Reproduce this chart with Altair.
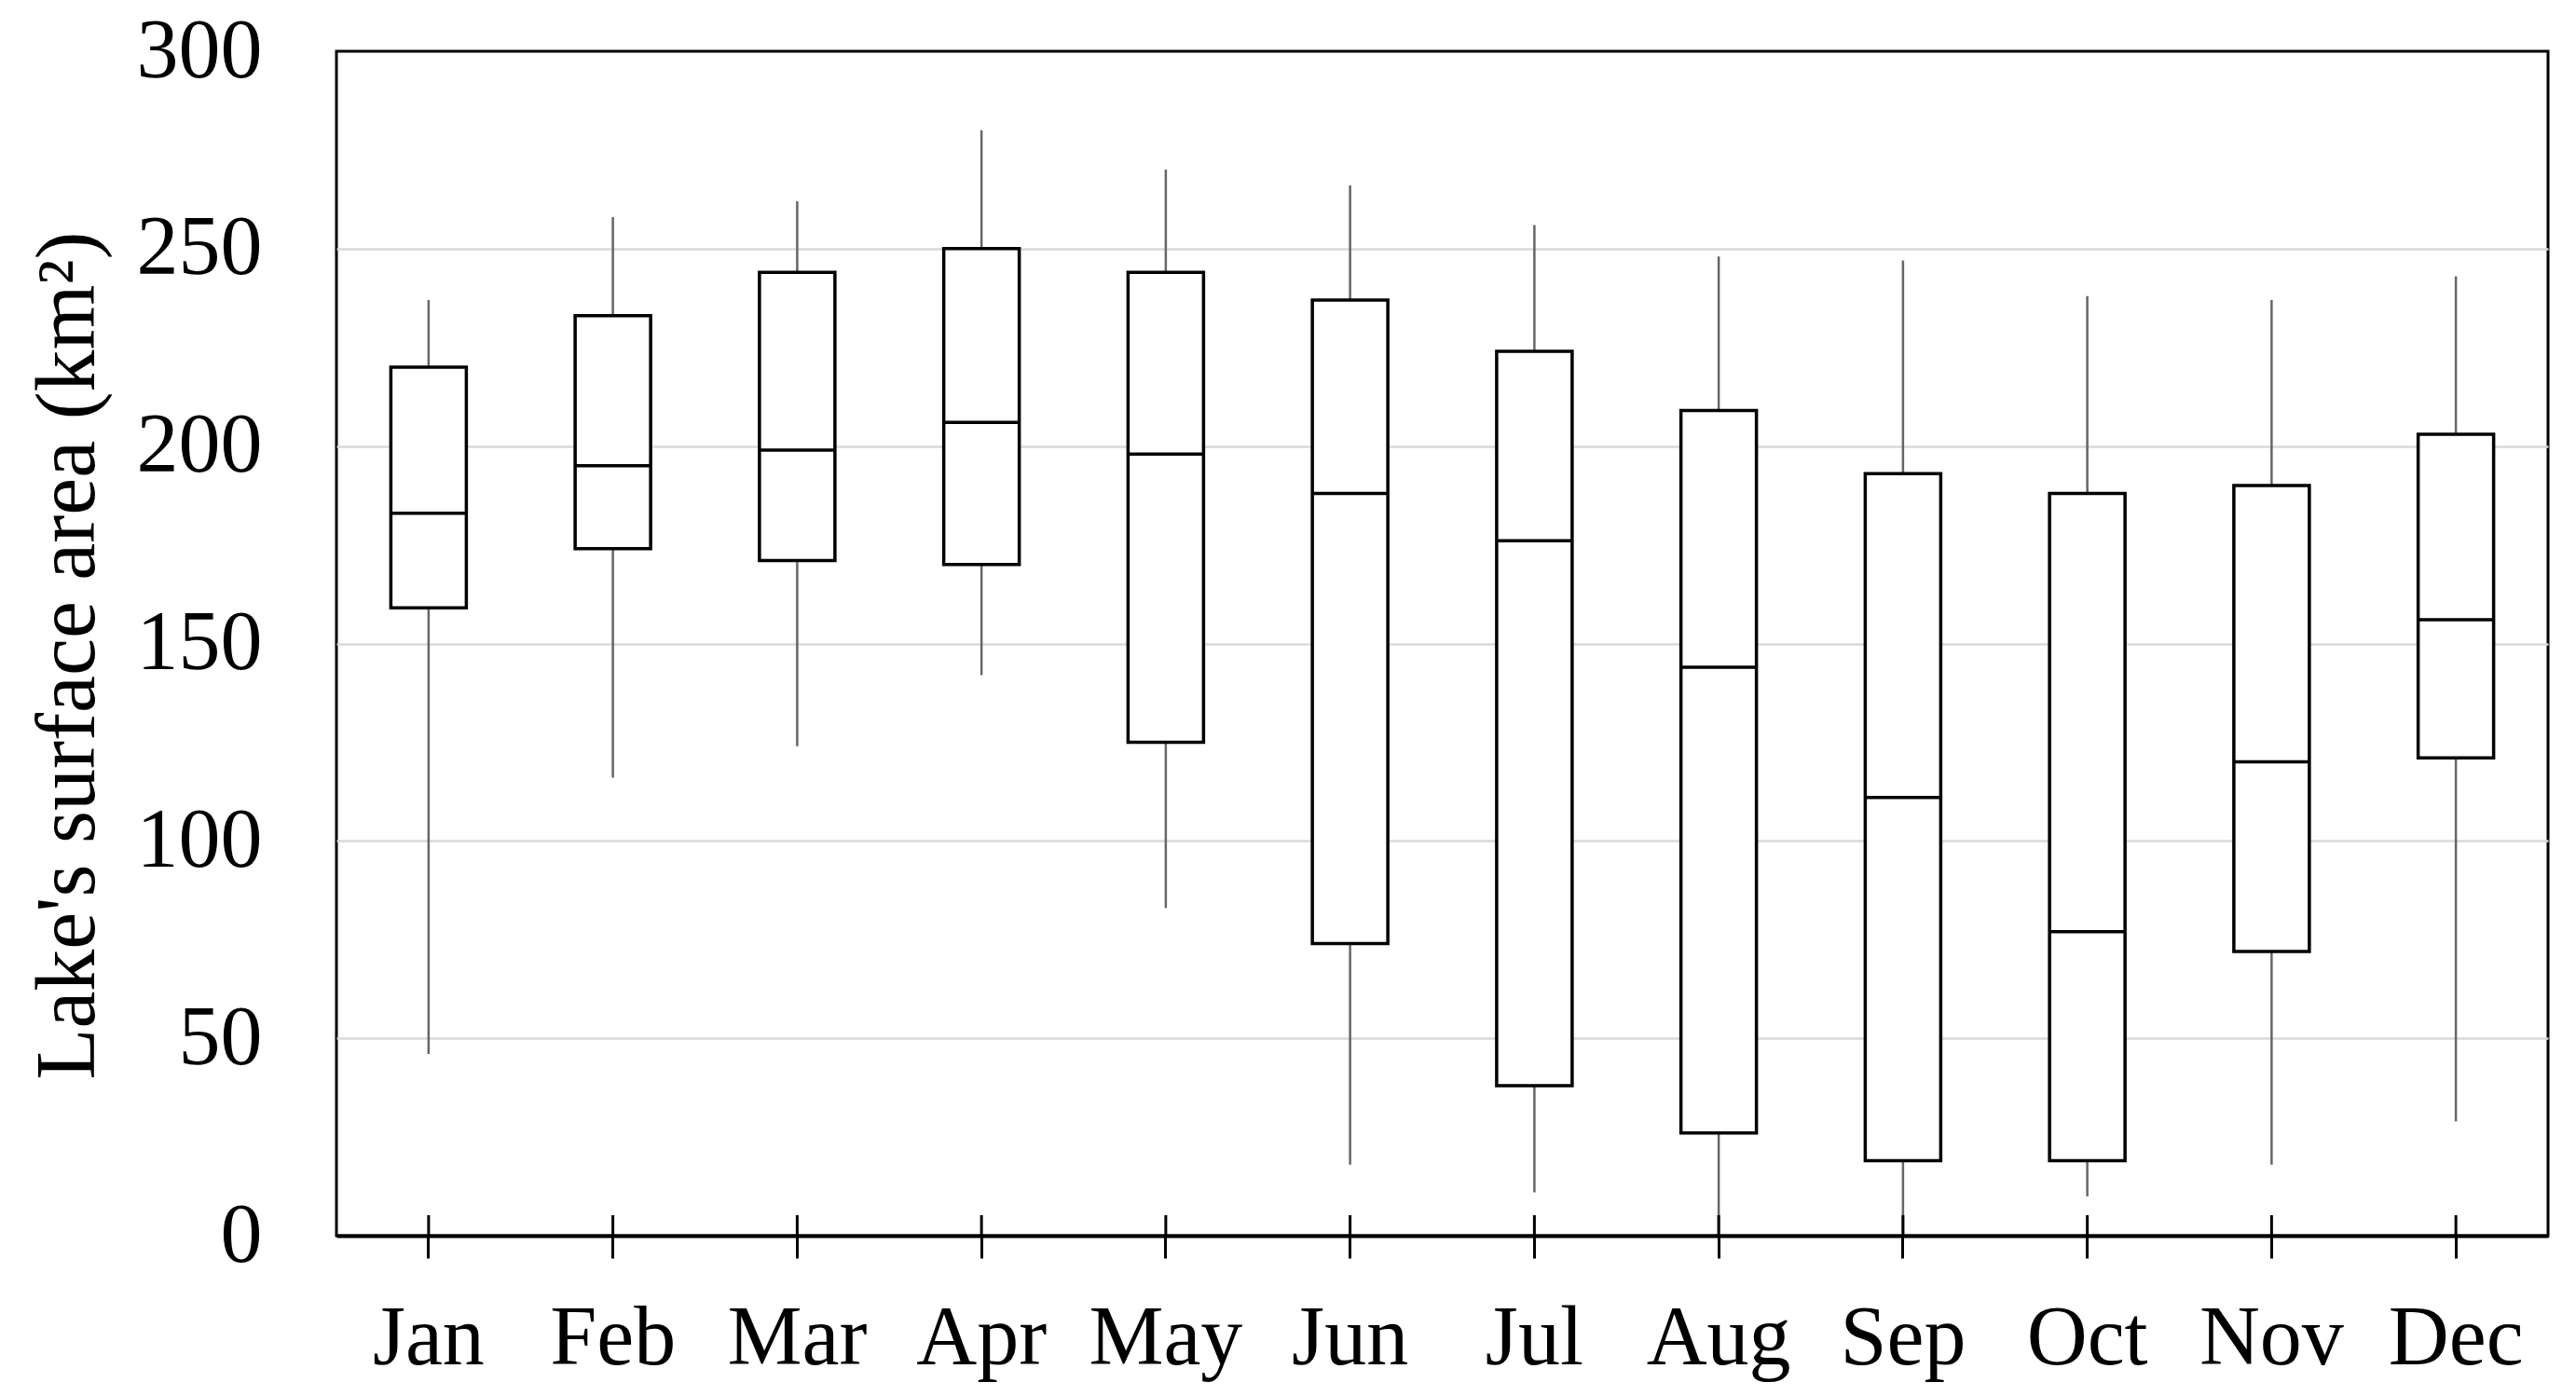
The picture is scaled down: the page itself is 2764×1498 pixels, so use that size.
import altair as alt
import pandas as pd

months = ["Jan", "Feb", "Mar", "Apr", "May", "Jun", "Jul", "Aug", "Sep", "Oct", "Nov", "Dec"]
whisker_low = [46, 116, 124, 142, 83, 18, 11, 0, 0, 10, 18, 29]
q1 = [159, 174, 171, 170, 125, 74, 38, 26, 19, 19, 72, 121]
median = [183, 195, 199, 206, 198, 188, 176, 144, 111, 77, 120, 156]
q3 = [220, 233, 244, 250, 244, 237, 224, 209, 193, 188, 190, 203]
whisker_high = [237, 258, 262, 280, 270, 266, 256, 248, 247, 238, 237, 243]
y_ticks = [0, 50, 100, 150, 200, 250, 300]

df = pd.DataFrame({
    "month": months,
    "low": whisker_low,
    "q1": q1,
    "median": median,
    "q3": q3,
    "high": whisker_high,
})

W, H = 2373, 1271
FONT = "Liberation Serif"

x_enc = alt.X(
    "month:N",
    sort=months,
    scale=alt.Scale(paddingInner=0, paddingOuter=0),
    axis=alt.Axis(
        title=None,
        labelFont=FONT,
        labelFontSize=90,
        labelColor="black",
        labelAngle=0,
        labelPadding=42,
        ticks=True,
        tickSize=24,
        tickWidth=3,
        tickColor="black",
        domain=True,
        domainColor="black",
        domainWidth=4,
        grid=False,
    ),
)

y_scale = alt.Scale(domain=[0, 300], nice=False, zero=True)
y_axis = alt.Axis(
    title="Lake's surface area (km²)",
    titleFont=FONT,
    titleFontSize=90,
    titleFontWeight="normal",
    titleColor="black",
    titleX=-261,
    titleY=648,
    titleAngle=270,
    titleAlign="center",
    titleBaseline="alphabetic",
    values=y_ticks,
    labelFont=FONT,
    labelFontSize=90,
    labelColor="black",
    labelPadding=80,
    ticks=False,
    tickSize=0,
    domain=False,
    grid=True,
    gridColor="#d9d9d9",
    gridWidth=2.5,
    gridOpacity={"condition": {"test": "datum.value === 0 || datum.value === 300", "value": 0}, "value": 1},
)

base = alt.Chart(df).encode(x=x_enc)

whiskers = base.mark_rule(color="#666666", strokeWidth=2.5).encode(
    y=alt.Y("low:Q", scale=y_scale, axis=y_axis),
    y2="high:Q",
)

boxes = base.mark_bar(size=81, fill="white", stroke="black", strokeWidth=3.5).encode(
    y=alt.Y("q1:Q", scale=y_scale),
    y2="q3:Q",
)

medians = base.mark_tick(size=81, thickness=3.5, color="black", opacity=1).encode(
    y=alt.Y("median:Q", scale=y_scale),
)

inner_ticks = base.mark_rule(color="black", strokeWidth=3).encode(
    y=alt.value(H - 22),
    y2=alt.value(H),
)

chart = alt.layer(whiskers, boxes, medians, inner_ticks).properties(
    width=W,
    height=H,
    background="white",
    padding={"left": 353, "top": 47, "right": 20, "bottom": 172},
    autosize=alt.AutoSizeParams(type="none"),
).configure_view(
    stroke="black",
    strokeWidth=3,
    strokeOpacity=1,
)

chart.save("out.html", embed_options={"renderer": "svg", "actions": False})
